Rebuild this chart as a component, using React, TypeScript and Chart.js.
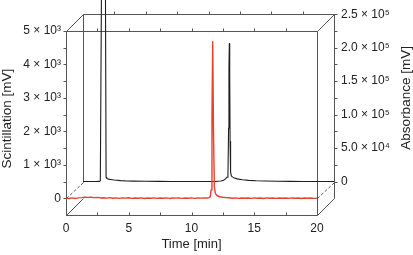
import React, { useEffect, useRef } from "react";
import { Chart, registerables } from "chart.js";

Chart.register(...registerables);

// ---------- data ----------
const timeTicks = [0, 5, 10, 15, 20];
const timeTickLabels = ["0", "5", "10", "15", "20"];
const timeMinorTicks = [0, 2.5, 5, 7.5, 10, 12.5, 15, 17.5, 20];

const scintTicks = [0, 1000, 2000, 3000, 4000, 5000];
const scintTickLabels = ["0", "1 × 10³", "2 × 10³", "3 × 10³", "4 × 10³", "5 × 10³"];
const scintMinorTicks = [0, 500, 1000, 1500, 2000, 2500, 3000, 3500, 4000, 4500, 5000];

const absTicks = [0, 50000, 100000, 150000, 200000, 250000];
const absTickLabels = ["0", "5.0 × 10⁴", "1.0 × 10⁵", "1.5 × 10⁵", "2.0 × 10⁵", "2.5 × 10⁵"];
const absMinorTicks = [0, 25000, 50000, 75000, 100000, 125000, 150000, 175000, 200000, 225000, 250000];

// Scintillation trace (red, front plane) [min], [mV]
const redTime = [
  0, 0.25, 0.5, 0.75, 1, 1.25, 1.5, 1.75, 2, 2.25, 2.5, 2.75, 3, 3.25, 3.5, 3.75,
  4, 4.25, 4.5, 4.75, 5, 5.25, 5.5, 5.75, 6, 6.25, 6.5, 6.75, 7, 7.25, 7.5, 7.75,
  8, 8.25, 8.5, 8.75, 9, 9.25, 9.5, 9.75, 10, 10.25, 10.5, 10.75, 11, 11.25, 11.4,
  11.5, 11.56, 11.63, 11.69, 11.75, 11.82, 11.9, 12, 12.25, 12.5,
  12.75, 13, 13.25, 13.5, 13.75, 14, 14.25, 14.5, 14.75, 15, 15.25, 15.5, 15.75,
  16, 16.25, 16.5, 16.75, 17, 17.25, 17.5, 17.75, 18, 18.25, 18.5, 18.75, 19,
  19.25, 19.5, 19.75, 20,
];
const redSignal = [
  5, -8, 10, -5, 12, 20, 35, 28, 30, 18, 25, 10, 15, 5, 18, 2,
  12, -4, 10, 3, 14, -2, 9, 0, 11, -6, 8, 2, 13, -3, 7, 1,
  12, -5, 9, 3, 10, -4, 8, 2, 11, -3, 9, 4, 12, 8, 20,
  50, 250, 2400, 4680, 2000, 350, 150, 90, 45, 30,
  20, 15, 2, 12, -3, 10, 0, 9, -4, 11, 1, 8, -5,
  10, 2, 7, -3, 9, 0, 8, -4, 10, 1, 6, -5, 9,
  2, 7, -3, 5,
];

// Absorbance trace (black, back plane) [min], [mV]
const blackTime = [
  0, 0.5, 1, 1.3, 1.38, 1.47, 1.63, 1.79, 1.84, 1.9, 2, 2.2, 2.5, 3, 3.5, 4, 5, 6,
  7, 8, 9, 10, 10.5, 11, 11.2, 11.35, 11.48, 11.55, 11.6, 11.63, 11.66, 11.69,
  11.72, 11.76, 11.82, 11.9, 12, 12.3, 12.7, 13.2, 13.8, 14.5, 15.5, 16.5, 17.5,
  18.5, 20,
];
const blackSignal = [
  0, 0, 0, 200, 1000, 280000, 1500000, 280000, 6000, 4500, 3600, 3000, 2200, 1400,
  900, 600, 380, 240, 160, 110, 70, 40, 30, 800, 2000, 4000, 6500, 9000, 80000,
  170000, 206000, 160000, 60000, 14000, 8500, 7000, 5800, 4000, 2700, 1800, 1200,
  800, 500, 300, 160, 80, 0,
];

// ---------- layout constants ----------
const W = 413;
const H = 255;
const AREA_LEFT = 66;
const AREA_RIGHT = 334;
const AREA_TOP = 11;
const AREA_BOTTOM = 215;
const DEPTH = 17;
const FRONT_W = AREA_RIGHT - AREA_LEFT - DEPTH;
const FONT = "'Liberation Sans', Arial, Helvetica, sans-serif";
const BOX = "#555555";

const lookup = (vals: number[], labels: string[]) => (v: number | string) => {
  const i = vals.indexOf(Number(v));
  return i >= 0 ? labels[i] : "";
};

const boxPlugin = {
  id: "box3d",
  beforeDatasetsDraw(chart: any) {
    const { ctx } = chart;
    const xs = chart.scales.x;
    const xb = chart.scales.x2;
    const yl = chart.scales.yL;
    const yr = chart.scales.yR;
    const r = (v: number) => Math.round(v) + 0.5;
    const fx0 = r(xs.getPixelForValue(0));
    const fx1 = r(xs.getPixelForValue(20));
    const bx0 = r(xb.getPixelForValue(0));
    const bx1 = r(xb.getPixelForValue(20));
    const fyTop = r(yl.getPixelForValue(5000));
    const fyZero = r(yl.getPixelForValue(0));
    const fyBot = r(yl.getPixelForValue(-500));
    const byTop = r(yr.getPixelForValue(250000));
    const byZero = r(yr.getPixelForValue(0));
    const byBot = fyBot - (fyTop - byTop);

    ctx.save();
    ctx.strokeStyle = BOX;
    ctx.lineWidth = 1;
    const line = (a: number, b: number, c: number, d: number) => {
      ctx.beginPath();
      ctx.moveTo(a, b);
      ctx.lineTo(c, d);
      ctx.stroke();
    };
    // back box
    line(bx0, byTop, bx1, byTop);
    line(bx0, byTop, bx0, byZero);
    line(bx1, byTop, bx1, byBot);
    // front box
    line(fx0, fyTop, fx1, fyTop);
    line(fx0, fyTop, fx0, fyBot);
    line(fx0, fyBot, fx1, fyBot);
    line(fx1, fyTop, fx1, fyBot);
    // depth edges
    line(fx0, fyTop, bx0, byTop);
    line(fx1, fyTop, bx1, byTop);
    line(fx0, fyBot, bx0, byBot);
    line(fx1, fyBot, bx1, byBot);
    ctx.setLineDash([3, 2]);
    line(fx0, fyZero, bx0, byZero);
    line(fx1, fyZero, bx1, byZero);
    ctx.setLineDash([]);

    // tick marks
    const T = 3;
    scintMinorTicks.forEach((v) => {
      const y = r(yl.getPixelForValue(v));
      line(fx0 - T, y, fx0, y);
    });
    absMinorTicks.forEach((v) => {
      const y = r(yr.getPixelForValue(v));
      line(bx1, y, bx1 + T, y);
    });
    timeMinorTicks.forEach((v) => {
      const x = r(xs.getPixelForValue(v));
      line(x, fyBot, x, fyBot - T);
      if (v > 0 && v < 20) {
        line(x, fyTop, x, fyTop - T);
        const xb2 = r(xb.getPixelForValue(v));
        line(xb2, byTop, xb2, byTop - T);
      }
    });
    ctx.restore();
  },
  afterDraw(chart: any) {
    const { ctx } = chart;
    const xs = chart.scales.x;
    const yl = chart.scales.yL;
    const yr = chart.scales.yR;
    ctx.save();
    ctx.fillStyle = "#222";
    ctx.textAlign = "center";
    ctx.textBaseline = "middle";
    ctx.font = `13px ${FONT}`;
    const cx = (xs.getPixelForValue(0) + xs.getPixelForValue(20)) / 2;
    ctx.fillText("Time [min]", cx, 244);

    ctx.font = `13.5px ${FONT}`;
    ctx.save();
    ctx.translate(7, (yl.getPixelForValue(0) + yl.getPixelForValue(5000)) / 2 + 4);
    ctx.rotate(-Math.PI / 2);
    ctx.fillText("Scintillation [mV]", 0, 0);
    ctx.restore();

    ctx.save();
    ctx.translate(406, (yr.getPixelForValue(0) + yr.getPixelForValue(250000)) / 2);
    ctx.rotate(-Math.PI / 2);
    ctx.fillText("Absorbance [mV]", 0, 0);
    ctx.restore();
    ctx.restore();
  },
};

export default function App() {
  const ref = useRef<HTMLCanvasElement | null>(null);

  useEffect(() => {
    if (!ref.current) return;
    const frontMax = (20 * (AREA_RIGHT - AREA_LEFT)) / FRONT_W;
    const backMin = (-20 * DEPTH) / FRONT_W;

    const chart = new Chart(ref.current, {
      type: "line",
      data: {
        datasets: [
          {
            label: "Scintillation",
            data: redTime.map((t, i) => ({ x: t, y: redSignal[i] })),
            xAxisID: "x",
            yAxisID: "yL",
            borderColor: "#e8412c",
            borderWidth: 1.4,
            borderJoinStyle: "round",
            pointRadius: 0,
            tension: 0,
            clip: false as any,
          },
          {
            label: "Absorbance",
            data: blackTime.map((t, i) => ({ x: t, y: blackSignal[i] })),
            xAxisID: "x2",
            yAxisID: "yR",
            borderColor: "#1e1e1e",
            borderWidth: 1.1,
            borderJoinStyle: "round",
            pointRadius: 0,
            tension: 0,
            clip: false as any,
          },
        ],
      },
      options: {
        animation: false,
        responsive: false,
        devicePixelRatio: 1,
        layout: { padding: { top: AREA_TOP, left: 0, right: 0, bottom: 0 } },
        plugins: { legend: { display: false }, tooltip: { enabled: false } },
        scales: {
          x: {
            type: "linear",
            position: "bottom",
            min: 0,
            max: frontMax,
            grid: { display: false, drawTicks: false },
            border: { display: false },
            afterBuildTicks: (s: any) => {
              s.ticks = timeTicks.map((v) => ({ value: v }));
            },
            afterFit: (s: any) => {
              s.height = H - AREA_BOTTOM;
            },
            ticks: {
              autoSkip: false,
              maxRotation: 0,
              padding: 6,
              color: "#222",
              font: { family: FONT, size: 12 },
              callback: lookup(timeTicks, timeTickLabels),
            },
          },
          x2: {
            type: "linear",
            position: "bottom",
            display: false,
            min: backMin,
            max: 20,
          },
          yL: {
            type: "linear",
            position: "left",
            min: -500,
            max: 5500,
            grid: { display: false, drawTicks: false },
            border: { display: false },
            afterBuildTicks: (s: any) => {
              s.ticks = scintTicks.map((v) => ({ value: v }));
            },
            afterFit: (s: any) => {
              s.width = AREA_LEFT;
            },
            ticks: {
              autoSkip: false,
              padding: 5,
              color: "#222",
              font: { family: FONT, size: 12 },
              callback: lookup(scintTicks, scintTickLabels),
            },
          },
          yR: {
            type: "linear",
            position: "right",
            min: -50000,
            max: 250000,
            grid: { display: false, drawTicks: false },
            border: { display: false },
            afterBuildTicks: (s: any) => {
              s.ticks = absTicks.map((v) => ({ value: v }));
            },
            afterFit: (s: any) => {
              s.width = W - AREA_RIGHT;
            },
            ticks: {
              autoSkip: false,
              padding: 7,
              color: "#222",
              font: { family: FONT, size: 12 },
              callback: lookup(absTicks, absTickLabels),
            },
          },
        },
      } as any,
      plugins: [boxPlugin],
    });
    return () => chart.destroy();
  }, []);

  return (
    <div style={{ position: "absolute", left: 0, top: 0, width: W, height: H, background: "#fff" }}>
      <canvas ref={ref} width={W} height={H} style={{ display: "block" }} />
    </div>
  );
}
